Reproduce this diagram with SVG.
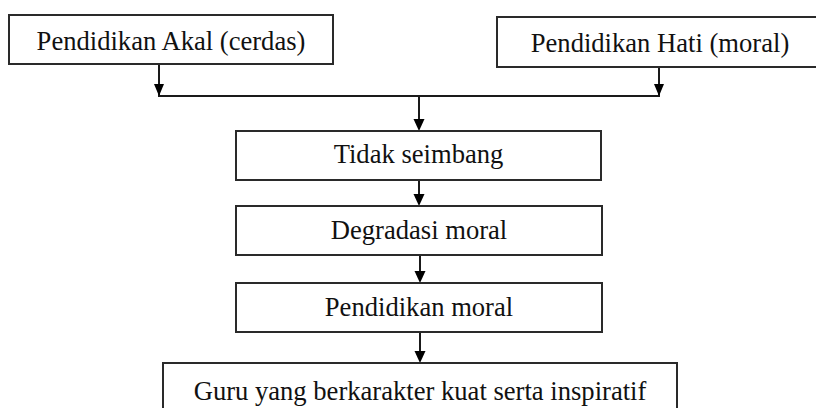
<svg xmlns="http://www.w3.org/2000/svg" width="816" height="408" viewBox="0 0 816 408">
<style>
.box{fill:#fff;stroke:#2a2a2a;stroke-width:2}
.lbl{font-family:"Liberation Serif","Times New Roman",serif;font-size:26.6px;fill:#111;text-anchor:middle}
.wire{fill:none;stroke:#1a1a1a;stroke-width:2}
</style>
<defs>
<marker id="ah" markerUnits="userSpaceOnUse" markerWidth="12" markerHeight="12" viewBox="0 0 12 12" refX="6" refY="12" orient="auto-start-reverse">
<path d="M0.5,0 L11.5,0 L6,12 Z" fill="#000" transform="rotate(0)"/>
</marker>
</defs>
<rect width="816" height="408" fill="#fff"/>
<g id="connectors">
<path class="wire" d="M159,64 V96 H659 V67"/>
<path d="M154,84 L164,84 L159,96 Z" fill="#000"/>
<path d="M654,84 L664,84 L659,96 Z" fill="#000"/>
<line class="wire" x1="419" y1="96" x2="419" y2="122"/>
<path d="M413.5,119 L424.5,119 L419,131 Z" fill="#000"/>
<line class="wire" x1="419" y1="180" x2="419" y2="197"/>
<path d="M413.5,194 L424.5,194 L419,206 Z" fill="#000"/>
<line class="wire" x1="420" y1="255" x2="420" y2="274"/>
<path d="M414.5,271 L425.5,271 L420,283 Z" fill="#000"/>
<line class="wire" x1="420" y1="332" x2="420" y2="354"/>
<path d="M414.5,351 L425.5,351 L420,363 Z" fill="#000"/>
</g>
<g id="akal">
<rect class="box" x="9" y="15" width="324" height="49"/>
<text class="lbl" x="171" y="50">Pendidikan Akal (cerdas)</text>
</g>
<g id="hati">
<rect class="box" x="497" y="17" width="326" height="50"/>
<text class="lbl" x="660" y="52">Pendidikan Hati (moral)</text>
</g>
<g id="tidak">
<rect class="box" x="236" y="131" width="365" height="49"/>
<text class="lbl" x="418.5" y="163">Tidak seimbang</text>
</g>
<g id="degradasi">
<rect class="box" x="236" y="206" width="366" height="49"/>
<text class="lbl" x="419" y="239">Degradasi moral</text>
</g>
<g id="pendmoral">
<rect class="box" x="236" y="283" width="366" height="49"/>
<text class="lbl" x="419" y="316">Pendidikan moral</text>
</g>
<g id="guru">
<rect class="box" x="163" y="363" width="514" height="60"/>
<text class="lbl" x="420" y="400">Guru yang berkarakter kuat serta inspiratif</text>
</g>
</svg>
